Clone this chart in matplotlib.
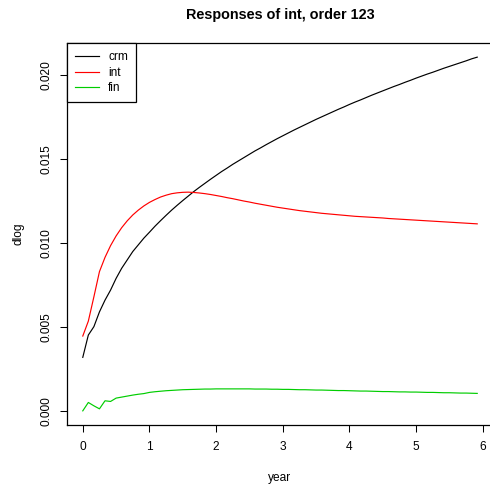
import numpy as np
import matplotlib
matplotlib.use("Agg")
import matplotlib.pyplot as plt

plt.rcParams['font.family'] = ['Liberation Sans', 'DejaVu Sans']

months = np.arange(72)
year = months / 12.0

crm = [0.00319, 0.00452, 0.00502, 0.00590, 0.00660, 0.00720, 0.00790, 0.00850,
       0.00900, 0.00950, 0.00990, 0.01030, 0.01065, 0.01101, 0.01134, 0.01166,
       0.01197, 0.01226, 0.01254, 0.01281, 0.01308, 0.01333, 0.01357, 0.01381,
       0.01404, 0.01427, 0.01448, 0.01470, 0.01490, 0.01510, 0.01530, 0.01550,
       0.01568, 0.01587, 0.01605, 0.01623, 0.01640, 0.01657, 0.01674, 0.01690,
       0.01706, 0.01722, 0.01738, 0.01753, 0.01768, 0.01783, 0.01798, 0.01812,
       0.01827, 0.01841, 0.01854, 0.01868, 0.01882, 0.01895, 0.01908, 0.01921,
       0.01934, 0.01946, 0.01959, 0.01971, 0.01984, 0.01996, 0.02008, 0.02019,
       0.02031, 0.02043, 0.02054, 0.02065, 0.02076, 0.02087, 0.02099, 0.02109]

int_ = [0.00446, 0.00535, 0.00680, 0.00830, 0.00915, 0.00985, 0.01043, 0.01092,
        0.01133, 0.01168, 0.01197, 0.01222, 0.01243, 0.01260, 0.01275, 0.01286,
        0.01295, 0.01300, 0.01303, 0.01304, 0.01302, 0.01299, 0.01295, 0.01290,
        0.01284, 0.01278, 0.01271, 0.01265, 0.01258, 0.01251, 0.01245, 0.01238,
        0.01232, 0.01226, 0.01220, 0.01214, 0.01209, 0.01204, 0.01199, 0.01194,
        0.01190, 0.01186, 0.01182, 0.01178, 0.01175, 0.01172, 0.01169, 0.01166,
        0.01163, 0.01160, 0.01158, 0.01156, 0.01154, 0.01152, 0.01150, 0.01147,
        0.01145, 0.01143, 0.01141, 0.01139, 0.01137, 0.01135, 0.01133, 0.01131,
        0.01129, 0.01127, 0.01125, 0.01123, 0.01121, 0.01119, 0.01117, 0.01115]

fin = [0.00000, 0.00050, 0.00030, 0.00012, 0.00060, 0.00056, 0.00076, 0.00082,
       0.00088, 0.00094, 0.00099, 0.00103, 0.00110, 0.00114, 0.00117, 0.00120,
       0.00122, 0.00124, 0.00126, 0.00127, 0.00128, 0.00129, 0.00130, 0.00130,
       0.00131, 0.00131, 0.00131, 0.00131, 0.00131, 0.00131, 0.00131, 0.00130,
       0.00130, 0.00130, 0.00129, 0.00129, 0.00128, 0.00128, 0.00127, 0.00126,
       0.00126, 0.00125, 0.00124, 0.00124, 0.00123, 0.00122, 0.00121, 0.00121,
       0.00120, 0.00119, 0.00118, 0.00118, 0.00117, 0.00116, 0.00115, 0.00115,
       0.00114, 0.00113, 0.00113, 0.00112, 0.00112, 0.00111, 0.00110, 0.00110,
       0.00109, 0.00108, 0.00108, 0.00107, 0.00106, 0.00106, 0.00105, 0.00104]

series_names = ["crm", "int", "fin"]
series_colors = ["black", "#FF0000", "#00CD00"]
xticks = [0, 1, 2, 3, 4, 5, 6]
yticks = [0.000, 0.005, 0.010, 0.015, 0.020]

W, H = 490, 493
fig = plt.figure(figsize=(W / 100, H / 100), dpi=100)
left, right, top, bottom = 67, 493, 43, 425
ax = fig.add_axes([left / W, 1 - bottom / H, (right - left) / W, (bottom - top) / H])

for vals, name, col in zip([crm, int_, fin], series_names, series_colors):
    ax.plot(year, vals, color=col, lw=0.85, label=name)

xmin, xmax = 0, year[-1]
ymin = min(min(crm), min(int_), min(fin))
ymax = max(max(crm), max(int_), max(fin))
ax.set_xlim(xmin - 0.04 * (xmax - xmin), xmax + 0.04 * (xmax - xmin))
ax.set_ylim(ymin - 0.04 * (ymax - ymin), ymax + 0.04 * (ymax - ymin))

ax.set_xticks(xticks)
ax.set_xticklabels([str(t) for t in xticks])
ax.set_yticks(yticks)
ax.set_yticklabels(["%.3f" % t for t in yticks], rotation=90, va='center')
ax.tick_params(axis='both', direction='out', length=5.2, width=0.75,
               labelsize=8.6, color='black')
ax.tick_params(axis='x', pad=6.0)
ax.tick_params(axis='y', pad=5.0)
for s in ax.spines.values():
    s.set_linewidth(0.9)
    s.set_color('black')

ax.set_xlabel("year", fontsize=8.6, labelpad=14)
ax.set_ylabel("dlog", fontsize=8.6, labelpad=12)
ax.set_title("Responses of int, order 123", fontsize=10.4, fontweight='bold', pad=17)

leg = ax.legend(loc='upper left', bbox_to_anchor=(0, 1), borderaxespad=0,
                fontsize=8.6, handlelength=2.0, handletextpad=0.75,
                borderpad=0.7, labelspacing=0.28, fancybox=False,
                framealpha=1, edgecolor='black')
leg.get_frame().set_linewidth(0.9)

fig.savefig("out.png", dpi=100)
